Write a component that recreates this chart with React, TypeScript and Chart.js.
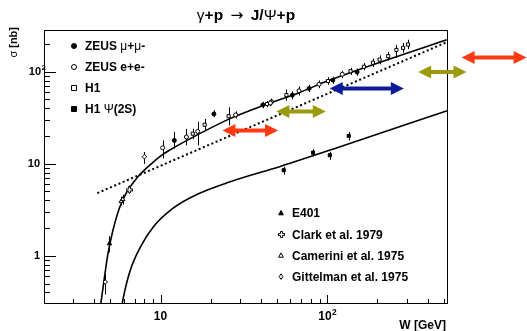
import React, { useEffect, useRef } from "react";
import { Chart, registerables } from "chart.js";
Chart.register(...registerables);

// ---------- axes ----------
const xRange = [2, 530];
const yRange = [0.32, 283];
const xTickValues = [10, 100];
const xTickLabels = ["10", "10^2"];
const yTickValues = [1, 10, 100];
const yTickLabels = ["1", "10", "10^2"];
const titleText = "γ+p → J/Ψ+p";
const xTitle = "W [GeV]";
const yTitle = "σ [nb]";

// ---------- data points ----------
const zeusMuW = [12.1, 20.9, 41.1, 61.8, 77.8, 108, 151];
const zeusMuS = [17.9, 34.7, 43.5, 55.6, 65.6, 81, 99];
const zeusMuLo = [14.6, 32, 40, 50, 60, 74, 90];
const zeusMuHi = [22.2, 38, 47, 61, 72, 88, 108];

const zeusEeW = [10.3, 14.3, 16.7, 28.2, 45.6, 67.7, 89.3, 123];
const zeusEeS = [14.9, 19.5, 22.4, 33.9, 45.6, 61.9, 73, 93.5];
const zeusEeLo = [11.4, 15.8, 15.8, 31, 42, 55, 66, 85];
const zeusEeHi = [17.9, 23.9, 28.5, 37, 49, 69, 80, 102];

const h1W = [15.6, 18.4, 25.6, 43.5, 46.3, 56.9, 101, 138, 166, 188, 206, 232, 260, 285, 305];
const h1S = [21.2, 26.5, 32.8, 44.5, 47.1, 55.6, 79, 101, 113, 125, 135, 147, 172, 181, 197];
const h1Lo = [18.5, 22.3, 26, 41, 43, 48, 72, 92, 103, 112, 120, 132, 141, 160, 176];
const h1Hi = [24, 30.6, 41, 48, 51, 64, 87, 110, 124, 138, 150, 163, 195, 205, 222];

const h1psiW = [54.8, 82.2, 103.6, 134.6];
const h1psiS = [8.5, 13.2, 12.4, 20.0];
const h1psiLo = [7.6, 12.0, 11.0, 17.9];
const h1psiHi = [9.3, 14.4, 13.5, 22.1];

const e401W = [4.94];
const e401S = [1.36];
const e401Lo = [1.09];
const e401Hi = [1.64];

const clarkW = [6.5];
const clarkS = [5.2];
const clarkLo = [4.7];
const clarkHi = [5.8];

const cameriniW = [5.81, 5.94];
const cameriniS = [3.9, 4.1];
const cameriniLo = [3.5, 3.6];
const cameriniHi = [4.4, 4.6];

const gittelmanW = [4.66, 8.0];
const gittelmanS = [0.52, 11.9];
const gittelmanLo = [0.38, 10.0];
const gittelmanHi = [0.63, 13.4];

// ---------- curves ----------
const upperFitW = [4.38, 4.61, 4.83, 5.17, 5.67, 6.22, 6.82, 7.48, 8.59, 9.86, 11.3, 16.4, 25.9, 40.8, 68.4, 100, 520];
const upperFitS = [0.30, 0.585, 1.04, 1.86, 3.31, 4.80, 6.14, 7.54, 9.6, 11.9, 14.0, 20.3, 30.7, 42.6, 59.4, 79, 222];
const lowerFitW = [5.85, 5.99, 6.57, 7.54, 9.07, 11.96, 16.5, 26.2, 52.3, 114.6, 524];
const lowerFitS = [0.278, 0.356, 0.69, 1.23, 2.07, 3.31, 4.63, 6.37, 9.35, 14.9, 37.7];
const dottedW = [4.18, 525];
const dottedS = [4.8, 210];

// ---------- arrows ----------
const arrowFrom = [23.5, 49.5, 103.5, 351, 640];
const arrowTo = [50.7, 98, 288, 685, 1570];
const arrowAt = [23, 36.8, 65.6, 99, 142];
const arrowColors = ["#ff3a12", "#9a9a0c", "#0c1c98", "#9a9a0c", "#ff3a12"];

// ---------- legends ----------
const legend1Labels = ["ZEUS μ+μ-", "ZEUS e+e-", "H1", "H1 Ψ(2S)"];
const legend1Markers = ["fcircle", "ocircle", "osquare", "fsquare"];
const legend2Labels = ["E401", "Clark et al. 1979", "Camerini et al. 1975", "Gittelman et al. 1975"];
const legend2Markers = ["ftri", "cross", "otri", "odiamond"];

const FONT = '"Liberation Sans", Arial, Helvetica, sans-serif';
const SYMBOLS = "γΨμσ→";

function makeOpenCross(size: number): HTMLCanvasElement {
  const c = document.createElement("canvas");
  c.width = size;
  c.height = size;
  const g = c.getContext("2d")!;
  const s = size;
  const a = Math.floor(s / 3);
  g.beginPath();
  g.moveTo(a + 0.5, 0.5);
  g.lineTo(s - a - 0.5, 0.5);
  g.lineTo(s - a - 0.5, a + 0.5);
  g.lineTo(s - 0.5, a + 0.5);
  g.lineTo(s - 0.5, s - a - 0.5);
  g.lineTo(s - a - 0.5, s - a - 0.5);
  g.lineTo(s - a - 0.5, s - 0.5);
  g.lineTo(a + 0.5, s - 0.5);
  g.lineTo(a + 0.5, s - a - 0.5);
  g.lineTo(0.5, s - a - 0.5);
  g.lineTo(0.5, a + 0.5);
  g.lineTo(a + 0.5, a + 0.5);
  g.closePath();
  g.fillStyle = "#fff";
  g.fill();
  g.strokeStyle = "#000";
  g.lineWidth = 1;
  g.stroke();
  return c;
}

function fontFor(seg: string, bold: boolean, size: number) {
  if (seg === "→") return `${size}px "DejaVu Sans", sans-serif`;
  return `${bold ? "bold " : ""}${size}px ${FONT}`;
}

function segmentsOf(text: string): [string, boolean][] {
  const out: [string, boolean][] = [];
  for (const ch of text) {
    const bold = !SYMBOLS.includes(ch);
    if (ch === "→") {
      out.push([ch, false]);
      continue;
    }
    const last = out[out.length - 1];
    if (last && last[1] === bold && last[0] !== "→") last[0] += ch;
    else out.push([ch, bold]);
  }
  return out;
}

function drawRich(ctx: CanvasRenderingContext2D, text: string, x: number, y: number, size: number, align: "left" | "center" | "right") {
  const segs = segmentsOf(text);
  let total = 0;
  const widths: number[] = [];
  for (const [s, b] of segs) {
    ctx.font = fontFor(s, b, size);
    const w = ctx.measureText(s).width + (s === "→" ? 6 : 0);
    widths.push(w);
    total += w;
  }
  let cx = align === "left" ? x : align === "center" ? x - total / 2 : x - total;
  ctx.textAlign = "left";
  segs.forEach(([s, b], i) => {
    ctx.font = fontFor(s, b, size);
    ctx.fillText(s, cx + (s === "→" ? 3 : 0), y);
    cx += widths[i];
  });
}

function drawTickLabel(ctx: CanvasRenderingContext2D, label: string, x: number, y: number, size: number, align: "center" | "right") {
  const [base, exp] = label.split("^");
  ctx.font = `bold ${size}px ${FONT}`;
  const wb = ctx.measureText(base).width;
  ctx.font = `bold ${size * 0.7}px ${FONT}`;
  const we = exp ? ctx.measureText(exp).width : 0;
  let start: number;
  if (align === "center") start = x - (wb + we) / 2;
  else start = x - wb;
  ctx.textAlign = "left";
  ctx.textBaseline = "middle";
  ctx.font = `bold ${size}px ${FONT}`;
  ctx.fillText(base, start, y);
  if (exp) {
    ctx.font = `bold ${size * 0.7}px ${FONT}`;
    ctx.fillText(exp, start + wb + 0.5, y - size * 0.38);
  }
}

function drawMarker(ctx: CanvasRenderingContext2D, kind: string, x: number, y: number, r: number, cross: HTMLCanvasElement) {
  ctx.save();
  ctx.lineWidth = 1;
  ctx.strokeStyle = "#000";
  ctx.fillStyle = kind.startsWith("f") ? "#000" : "#fff";
  ctx.beginPath();
  if (kind === "fcircle" || kind === "ocircle") {
    ctx.arc(x, y, r, 0, Math.PI * 2);
  } else if (kind === "osquare" || kind === "fsquare") {
    ctx.rect(x - r, y - r, 2 * r, 2 * r);
  } else if (kind === "ftri" || kind === "otri") {
    ctx.moveTo(x, y - r * 1.1);
    ctx.lineTo(x + r, y + r * 0.8);
    ctx.lineTo(x - r, y + r * 0.8);
    ctx.closePath();
  } else if (kind === "odiamond") {
    ctx.moveTo(x, y - r * 1.2);
    ctx.lineTo(x + r * 0.8, y);
    ctx.lineTo(x, y + r * 1.2);
    ctx.lineTo(x - r * 0.8, y);
    ctx.closePath();
  } else if (kind === "cross") {
    ctx.drawImage(cross, Math.round(x - cross.width / 2), Math.round(y - cross.height / 2));
    ctx.restore();
    return;
  }
  ctx.fill();
  ctx.stroke();
  ctx.restore();
}

function zip(xs: number[], ys: number[]) {
  return xs.map((x, i) => ({ x, y: ys[i] }));
}

export default function App() {
  const ref = useRef<HTMLCanvasElement | null>(null);

  useEffect(() => {
    document.body.style.margin = "0";
    const canvas = ref.current!;
    const cross = makeOpenCross(7);

    const errorSets = [
      [zeusMuW, zeusMuLo, zeusMuHi],
      [zeusEeW, zeusEeLo, zeusEeHi],
      [h1W, h1Lo, h1Hi],
      [h1psiW, h1psiLo, h1psiHi],
      [e401W, e401Lo, e401Hi],
      [clarkW, clarkLo, clarkHi],
      [cameriniW, cameriniLo, cameriniHi],
      [gittelmanW, gittelmanLo, gittelmanHi],
    ];

    const pts = (data: any, style: any, filled: boolean, r: number) => ({
      data,
      showLine: false,
      pointStyle: style,
      pointRadius: r,
      pointBorderWidth: 1,
      pointBorderColor: "#000",
      pointBackgroundColor: filled ? "#000" : "#fff",
    });
    const line = (data: any, dash: number[], width: number) => ({
      data,
      showLine: true,
      pointRadius: 0,
      borderColor: "#000",
      borderWidth: width,
      borderDash: dash,
      cubicInterpolationMode: "monotone",
      fill: false,
    });

    const overlay = {
      id: "rootStyle",
      beforeDatasetsDraw(chart: any) {
        const ctx = chart.ctx as CanvasRenderingContext2D;
        const xs = chart.scales.x;
        const ys = chart.scales.y;
        const a = chart.chartArea;
        ctx.save();
        ctx.beginPath();
        ctx.rect(a.left, a.top, a.right - a.left, a.bottom - a.top);
        ctx.clip();
        ctx.strokeStyle = "#000";
        ctx.lineWidth = 1;
        for (const [w, lo, hi] of errorSets) {
          w.forEach((wv: number, i: number) => {
            const px = Math.round(xs.getPixelForValue(wv)) + 0.5;
            ctx.beginPath();
            ctx.moveTo(px, ys.getPixelForValue(lo[i]));
            ctx.lineTo(px, ys.getPixelForValue(hi[i]));
            ctx.stroke();
          });
        }
        ctx.restore();
      },
      afterDraw(chart: any) {
        const ctx = chart.ctx as CanvasRenderingContext2D;
        const xs = chart.scales.x;
        const ys = chart.scales.y;
        const a = chart.chartArea;
        ctx.save();
        // frame
        ctx.strokeStyle = "#000";
        ctx.lineWidth = 1;
        ctx.strokeRect(a.left + 0.5, a.top + 0.5, a.right - a.left - 1, a.bottom - a.top - 1);
        // y ticks
        for (let d = 0.1; d <= 1000; d *= 10) {
          for (let m = 1; m <= 9; m++) {
            const v = m * d;
            if (v < yRange[0] || v > yRange[1]) continue;
            const py = Math.round(ys.getPixelForValue(v)) + 0.5;
            ctx.beginPath();
            ctx.moveTo(a.left, py);
            ctx.lineTo(a.left + (m === 1 ? 12 : 6), py);
            ctx.stroke();
          }
        }
        // x ticks
        for (let d = 1; d <= 1000; d *= 10) {
          for (let m = 1; m <= 9; m++) {
            const v = m * d;
            if (v < xRange[0] || v > xRange[1]) continue;
            const px = Math.round(xs.getPixelForValue(v)) + 0.5;
            ctx.beginPath();
            ctx.moveTo(px, a.bottom);
            ctx.lineTo(px, a.bottom - (m === 1 ? 9 : 5));
            ctx.stroke();
          }
        }
        ctx.fillStyle = "#000";
        // tick labels
        xTickValues.forEach((v, i) => {
          drawTickLabel(ctx, xTickLabels[i], xs.getPixelForValue(v), a.bottom + 13, 12, "center");
        });
        yTickValues.forEach((v, i) => {
          drawTickLabel(ctx, yTickLabels[i], a.left - 4 - (yTickLabels[i].includes("^") ? -1 : 0), ys.getPixelForValue(v), 11, "right");
        });
        // axis titles
        ctx.textBaseline = "alphabetic";
        drawRich(ctx, xTitle, a.right - 2, 329, 12, "right");
        ctx.save();
        ctx.translate(17, 27);
        ctx.rotate(-Math.PI / 2);
        drawRich(ctx, yTitle, 0, 0, 11, "right");
        ctx.restore();
        // title
        drawRich(ctx, titleText, (a.left + a.right) / 2, 19.5, 15.5, "center");
        // legends
        ctx.textBaseline = "middle";
        legend1Labels.forEach((lab, i) => {
          const y = 46 + i * 21;
          drawMarker(ctx, legend1Markers[i], 74, y, 2.5, cross);
          drawRich(ctx, lab, 85, y + 1, 12, "left");
        });
        legend2Labels.forEach((lab, i) => {
          const y = 213 + i * 21.2;
          drawMarker(ctx, legend2Markers[i], 281, y, 2.3, cross);
          drawRich(ctx, lab, 292, y + 1, 12, "left");
        });
        // arrows
        arrowFrom.forEach((w0, i) => {
          const x0 = xs.getPixelForValue(w0);
          const x1 = xs.getPixelForValue(arrowTo[i]);
          const y = ys.getPixelForValue(arrowAt[i]);
          const h = 13, hh = 6.5, t = 2;
          ctx.fillStyle = arrowColors[i];
          ctx.beginPath();
          ctx.moveTo(x0, y);
          ctx.lineTo(x0 + h, y - hh);
          ctx.lineTo(x0 + h, y - t);
          ctx.lineTo(x1 - h, y - t);
          ctx.lineTo(x1 - h, y - hh);
          ctx.lineTo(x1, y);
          ctx.lineTo(x1 - h, y + hh);
          ctx.lineTo(x1 - h, y + t);
          ctx.lineTo(x0 + h, y + t);
          ctx.lineTo(x0 + h, y + hh);
          ctx.closePath();
          ctx.fill();
        });
        ctx.restore();
      },
    };

    const chart = new Chart(canvas, {
      type: "scatter",
      data: {
        datasets: [
          pts(zip(zeusMuW, zeusMuS), "circle", true, 2),
          pts(zip(zeusEeW, zeusEeS), "circle", false, 2),
          pts(zip(h1W, h1S), "rect", false, 2.2),
          pts(zip(h1psiW, h1psiS), "rect", true, 2.2),
          pts(zip(e401W, e401S), "triangle", true, 2.5),
          pts(zip(clarkW, clarkS), cross, false, 3),
          pts(zip(cameriniW, cameriniS), "triangle", false, 2.5),
          pts(zip(gittelmanW, gittelmanS), "rectRot", false, 2.3),
          line(zip(upperFitW, upperFitS), [], 1.6),
          line(zip(lowerFitW, lowerFitS), [], 1.6),
          line(zip(dottedW, dottedS), [2, 2.6], 2),
        ] as any,
      },
      options: {
        animation: false,
        responsive: false,
        devicePixelRatio: 1,
        layout: { padding: { left: 44, right: 79, top: 30, bottom: 27 } },
        plugins: { legend: { display: false }, title: { display: false }, tooltip: { enabled: false } },
        scales: {
          x: { type: "logarithmic", min: xRange[0], max: xRange[1], display: false },
          y: { type: "logarithmic", min: yRange[0], max: yRange[1], display: false },
        },
      } as any,
      plugins: [overlay as any],
    });
    return () => chart.destroy();
  }, []);

  return (
    <div style={{ position: "absolute", left: 0, top: 0, width: 527, height: 331, background: "#fff" }}>
      <canvas ref={ref} width={527} height={331} style={{ width: 527, height: 331, display: "block" }} />
    </div>
  );
}
